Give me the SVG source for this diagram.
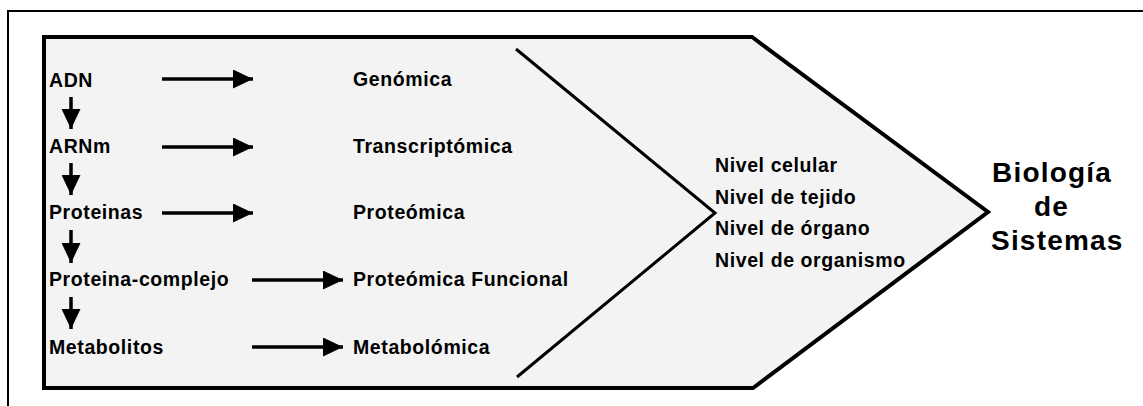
<svg xmlns="http://www.w3.org/2000/svg" width="1143" height="406" viewBox="0 0 1143 406">
<style>
.t{font-family:"Liberation Sans",Arial,sans-serif;font-weight:bold;font-size:19.5px;letter-spacing:0.6px;fill:#000}
.big{font-family:"Liberation Sans",Arial,sans-serif;font-weight:bold;font-size:28px;letter-spacing:1.2px;fill:#000}
.ln{stroke:#000;stroke-width:3.5;fill:none}
</style>
<defs>
<marker id="ah" markerUnits="userSpaceOnUse" markerWidth="21" markerHeight="19" refX="20" refY="9.5" orient="auto">
<path d="M0,0 L20,9.5 L0,19 Z" fill="#000"/>
</marker>
</defs>
<rect width="1143" height="406" fill="#fff"/>
<rect x="8" y="11" width="1145" height="405" fill="none" stroke="#000" stroke-width="2"/>
<g id="shape">
<polygon points="44,37 752,37 988,212 753,388 44,388" fill="#f3f3f3" stroke="#000" stroke-width="4"/>
<polyline points="516,49 715,213 517,377" fill="none" stroke="#000" stroke-width="3"/>
</g>
<g id="n-adn"><text class="t" x="49" y="87">ADN</text></g>
<g id="n-arnm"><text class="t" x="49" y="153">ARNm</text></g>
<g id="n-proteinas"><text class="t" x="49" y="219">Proteinas</text></g>
<g id="n-complejo"><text class="t" x="49" y="286">Proteina-complejo</text></g>
<g id="n-metabolitos"><text class="t" x="49" y="354">Metabolitos</text></g>
<g id="n-genomica"><text class="t" x="353" y="86">Genómica</text></g>
<g id="n-transcriptomica"><text class="t" x="353" y="153">Transcriptómica</text></g>
<g id="n-proteomica"><text class="t" x="353" y="219">Proteómica</text></g>
<g id="n-funcional"><text class="t" x="353" y="286">Proteómica Funcional</text></g>
<g id="n-metabolomica"><text class="t" x="353" y="354">Metabolómica</text></g>
<g id="n-niveles">
<text class="t" x="715" y="172">Nivel celular</text>
<text class="t" x="715" y="203.5">Nivel de tejido</text>
<text class="t" x="715" y="235">Nivel de órgano</text>
<text class="t" x="715" y="267">Nivel de organismo</text>
</g>
<g id="n-biologia">
<text class="big" x="992" y="182">Biología</text>
<text class="big" x="1034" y="216">de</text>
<text class="big" x="991" y="250">Sistemas</text>
</g>
<g id="connectors">
<line class="ln" x1="162" y1="79" x2="253" y2="79" marker-end="url(#ah)"/>
<line class="ln" x1="162" y1="147" x2="253" y2="147" marker-end="url(#ah)"/>
<line class="ln" x1="162" y1="213" x2="253" y2="213" marker-end="url(#ah)"/>
<line class="ln" x1="252" y1="280" x2="343" y2="280" marker-end="url(#ah)"/>
<line class="ln" x1="252" y1="347" x2="343" y2="347" marker-end="url(#ah)"/>
<line class="ln" x1="71" y1="97" x2="71" y2="129" marker-end="url(#ah)"/>
<line class="ln" x1="71" y1="163" x2="71" y2="195" marker-end="url(#ah)"/>
<line class="ln" x1="71" y1="230" x2="71" y2="263" marker-end="url(#ah)"/>
<line class="ln" x1="71" y1="297" x2="71" y2="329" marker-end="url(#ah)"/>
</g>
</svg>
